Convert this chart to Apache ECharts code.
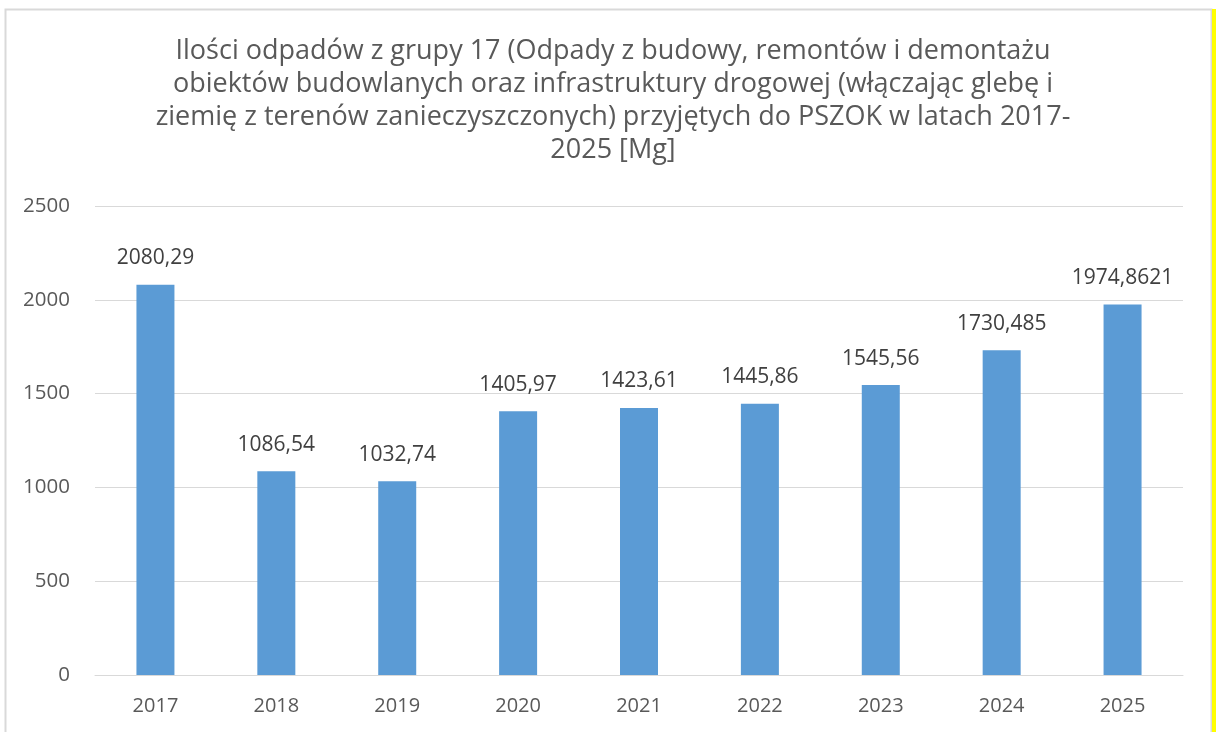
<!DOCTYPE html>
<html>
<head>
<meta charset="utf-8">
<script src="https://cdn.jsdelivr.net/npm/echarts@6/dist/echarts.min.js"></script>
<style>
html,body{margin:0;padding:0;background:#fff;}
#c{width:1216px;height:732px;}
</style>
</head>
<body>
<div id="c"></div>
<script>
const titleText = "Ilości odpadów z grupy 17 (Odpady z budowy, remontów i demontażu\nobiektów budowlanych oraz infrastruktury drogowej (włączając glebę i\nziemię z terenów zanieczyszczonych) przyjętych do PSZOK w latach 2017-\n2025 [Mg]";
const categories = ["2017","2018","2019","2020","2021","2022","2023","2024","2025"];
const values = [2080.29, 1086.54, 1032.74, 1405.97, 1423.61, 1445.86, 1545.56, 1730.485, 1974.8621];
const valueLabels = ["2080,29","1086,54","1032,74","1405,97","1423,61","1445,86","1545,56","1730,485","1974,8621"];
const yTicks = [0, 500, 1000, 1500, 2000, 2500];

const chart = echarts.init(document.getElementById('c'), null, {renderer:'canvas'});
const font = "'Open Sans', 'Noto Sans', sans-serif";
chart.setOption({
  animation: false,
  backgroundColor: '#fff',
  textStyle: {fontFamily: font},
  title: {
    text: titleText,
    left: 608, top: 30, textAlign: 'center',
    textStyle: {fontFamily: font, fontSize: 27, fontWeight: 'normal', color: '#595959', lineHeight: 33}
  },
  graphic: [
    {type:'rect', shape:{x:5.5, y:9.5, width:1206, height:740}, style:{fill:'none', stroke:'#d9d9d9', lineWidth:2}, silent:true},
    {type:'rect', shape:{x:1212, y:9, width:4, height:723}, style:{fill:'#ffff00'}, silent:true}
  ],
  grid: {left: 95, right: 33, top: 206, bottom: 57},
  xAxis: {
    type: 'category', data: categories,
    axisLine: {lineStyle: {color: '#d9d9d9', width: 1}},
    axisTick: {show: false},
    axisLabel: {fontFamily: font, fontSize: 20, color: '#595959', margin: 21}
  },
  yAxis: {
    type: 'value', min: yTicks[0], max: yTicks[yTicks.length-1], interval: 500,
    axisLine: {show: false}, axisTick: {show: false},
    splitLine: {lineStyle: {color: '#d9d9d9', width: 1}},
    axisLabel: {fontFamily: font, fontSize: 20.5, color: '#595959', margin: 25, formatter: v => String(v)}
  },
  series: [{
    type: 'bar', data: values, barWidth: 38,
    itemStyle: {color: '#5b9bd5'},
    label: {
      show: true, position: 'top', distance: 16,
      fontFamily: font, fontSize: 21, color: '#404040',
      formatter: p => valueLabels[p.dataIndex]
    }
  }]
});
</script>
</body>
</html>
